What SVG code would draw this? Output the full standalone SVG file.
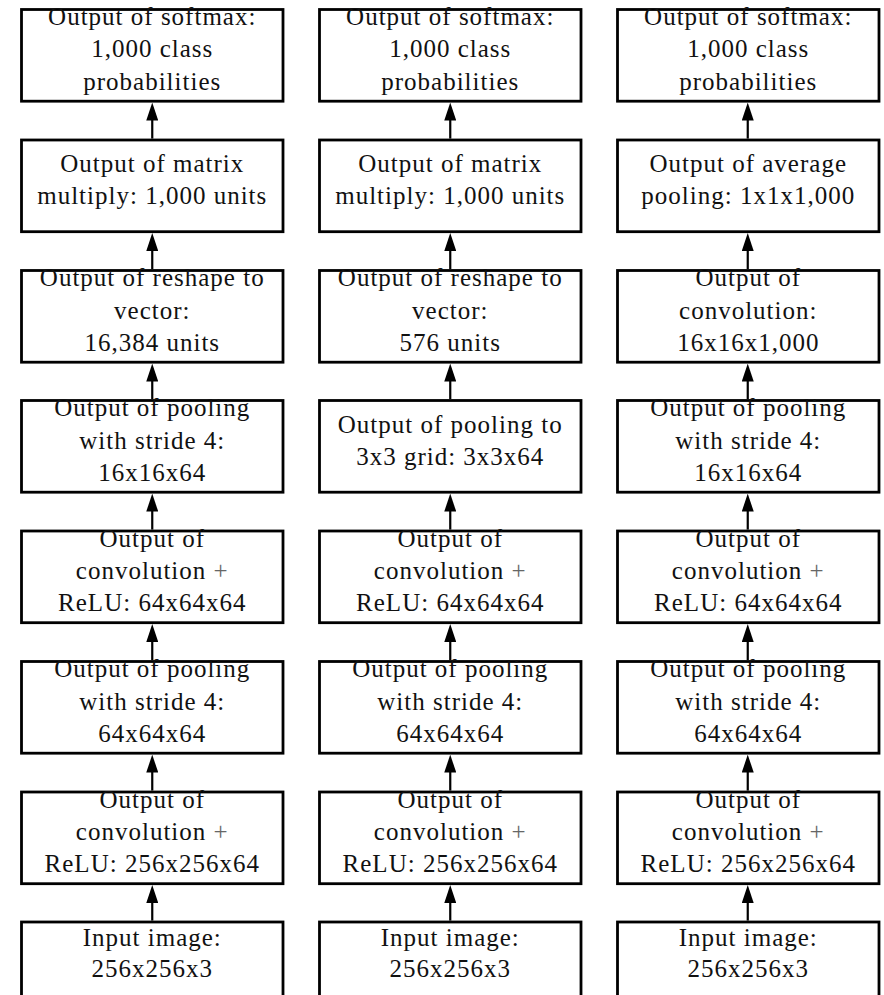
<svg xmlns="http://www.w3.org/2000/svg" width="884" height="995" viewBox="0 0 884 995">
  <style>
    .box { fill: #ffffff; stroke: #000000; stroke-width: 2.8; }
    .lbl { font-family: "Liberation Serif", "Times New Roman", serif; font-size: 25px; letter-spacing: 1px; fill: #111111; text-anchor: middle; }
    .plus { fill: #666666; }
    .edge { stroke: #000000; stroke-width: 2.2; fill: none; marker-end: url(#head); }
  </style>
  <defs>
    <marker id="head" markerUnits="userSpaceOnUse" markerWidth="18" markerHeight="12" refX="2" refY="6" orient="auto">
      <path d="M0,0 L18,6 L0,12 z" fill="#000000"/>
    </marker>
  </defs>
  <rect width="884" height="995" fill="#ffffff"/>

  <!-- connectors: each arrow points from a layer up to the layer it feeds -->
  <g id="connectors">
    <!-- column 1 -->
    <line class="edge" x1="152.25" y1="138.6" x2="152.25" y2="118.6"/>
    <line class="edge" x1="152.25" y1="269.1" x2="152.25" y2="249.1"/>
    <line class="edge" x1="152.25" y1="399.1" x2="152.25" y2="379.6"/>
    <line class="edge" x1="152.25" y1="529.6" x2="152.25" y2="509.6"/>
    <line class="edge" x1="152.25" y1="660.1" x2="152.25" y2="640.1"/>
    <line class="edge" x1="152.25" y1="790.6" x2="152.25" y2="770.6"/>
    <line class="edge" x1="152.25" y1="920.6" x2="152.25" y2="901.1"/>
    <!-- column 2 -->
    <line class="edge" x1="450.25" y1="138.6" x2="450.25" y2="118.6"/>
    <line class="edge" x1="450.25" y1="269.1" x2="450.25" y2="249.1"/>
    <line class="edge" x1="450.25" y1="399.1" x2="450.25" y2="379.6"/>
    <line class="edge" x1="450.25" y1="529.6" x2="450.25" y2="509.6"/>
    <line class="edge" x1="450.25" y1="660.1" x2="450.25" y2="640.1"/>
    <line class="edge" x1="450.25" y1="790.6" x2="450.25" y2="770.6"/>
    <line class="edge" x1="450.25" y1="920.6" x2="450.25" y2="901.1"/>
    <!-- column 3 -->
    <line class="edge" x1="747.75" y1="138.6" x2="747.75" y2="118.6"/>
    <line class="edge" x1="747.75" y1="269.1" x2="747.75" y2="249.1"/>
    <line class="edge" x1="747.75" y1="399.1" x2="747.75" y2="379.6"/>
    <line class="edge" x1="747.75" y1="529.6" x2="747.75" y2="509.6"/>
    <line class="edge" x1="747.75" y1="660.1" x2="747.75" y2="640.1"/>
    <line class="edge" x1="747.75" y1="790.6" x2="747.75" y2="770.6"/>
    <line class="edge" x1="747.75" y1="920.6" x2="747.75" y2="901.1"/>
  </g>

  <!-- ===== column 1: fully connected head, large pooling ===== -->
  <g id="c1-softmax">
    <rect class="box" x="21.5" y="9.5" width="261.5" height="91.7"/>
    <text class="lbl" x="152.25" y="25">Output of softmax:</text>
    <text class="lbl" x="152.25" y="57.3">1,000 class</text>
    <text class="lbl" x="152.25" y="89.5">probabilities</text>
  </g>
  <g id="c1-matmul">
    <rect class="box" x="21.5" y="140" width="261.5" height="91.7"/>
    <text class="lbl" x="152.25" y="172">Output of matrix</text>
    <text class="lbl" x="152.25" y="204">multiply: 1,000 units</text>
  </g>
  <g id="c1-reshape">
    <rect class="box" x="21.5" y="270.5" width="261.5" height="91.7"/>
    <text class="lbl" x="152.25" y="286.2">Output of reshape to</text>
    <text class="lbl" x="152.25" y="318.5">vector:</text>
    <text class="lbl" x="152.25" y="350.8">16,384 units</text>
  </g>
  <g id="c1-pool2">
    <rect class="box" x="21.5" y="400.5" width="261.5" height="91.7"/>
    <text class="lbl" x="152.25" y="416.2">Output of pooling</text>
    <text class="lbl" x="152.25" y="448.5">with stride 4:</text>
    <text class="lbl" x="152.25" y="480.8">16x16x64</text>
  </g>
  <g id="c1-conv2">
    <rect class="box" x="21.5" y="531" width="261.5" height="91.7"/>
    <text class="lbl" x="152.25" y="546.7">Output of</text>
    <text class="lbl" x="152.25" y="579">convolution <tspan class="plus">+</tspan></text>
    <text class="lbl" x="152.25" y="611.3">ReLU: 64x64x64</text>
  </g>
  <g id="c1-pool1">
    <rect class="box" x="21.5" y="661.5" width="261.5" height="91.7"/>
    <text class="lbl" x="152.25" y="677.2">Output of pooling</text>
    <text class="lbl" x="152.25" y="709.5">with stride 4:</text>
    <text class="lbl" x="152.25" y="741.8">64x64x64</text>
  </g>
  <g id="c1-conv1">
    <rect class="box" x="21.5" y="792" width="261.5" height="91.7"/>
    <text class="lbl" x="152.25" y="807.7">Output of</text>
    <text class="lbl" x="152.25" y="840">convolution <tspan class="plus">+</tspan></text>
    <text class="lbl" x="152.25" y="872.3">ReLU: 256x256x64</text>
  </g>
  <g id="c1-input">
    <rect class="box" x="21.5" y="922" width="261.5" height="90"/>
    <text class="lbl" x="152.25" y="945.5">Input image:</text>
    <text class="lbl" x="152.25" y="977.3">256x256x3</text>
  </g>

  <!-- ===== column 2: fully connected head, pooling to fixed grid ===== -->
  <g id="c2-softmax">
    <rect class="box" x="319.5" y="9.5" width="261.5" height="91.7"/>
    <text class="lbl" x="450.25" y="25">Output of softmax:</text>
    <text class="lbl" x="450.25" y="57.3">1,000 class</text>
    <text class="lbl" x="450.25" y="89.5">probabilities</text>
  </g>
  <g id="c2-matmul">
    <rect class="box" x="319.5" y="140" width="261.5" height="91.7"/>
    <text class="lbl" x="450.25" y="172">Output of matrix</text>
    <text class="lbl" x="450.25" y="204">multiply: 1,000 units</text>
  </g>
  <g id="c2-reshape">
    <rect class="box" x="319.5" y="270.5" width="261.5" height="91.7"/>
    <text class="lbl" x="450.25" y="286.2">Output of reshape to</text>
    <text class="lbl" x="450.25" y="318.5">vector:</text>
    <text class="lbl" x="450.25" y="350.8">576 units</text>
  </g>
  <g id="c2-pool2">
    <rect class="box" x="319.5" y="400.5" width="261.5" height="91.7"/>
    <text class="lbl" x="450.25" y="432.7">Output of pooling to</text>
    <text class="lbl" x="450.25" y="465">3x3 grid: 3x3x64</text>
  </g>
  <g id="c2-conv2">
    <rect class="box" x="319.5" y="531" width="261.5" height="91.7"/>
    <text class="lbl" x="450.25" y="546.7">Output of</text>
    <text class="lbl" x="450.25" y="579">convolution <tspan class="plus">+</tspan></text>
    <text class="lbl" x="450.25" y="611.3">ReLU: 64x64x64</text>
  </g>
  <g id="c2-pool1">
    <rect class="box" x="319.5" y="661.5" width="261.5" height="91.7"/>
    <text class="lbl" x="450.25" y="677.2">Output of pooling</text>
    <text class="lbl" x="450.25" y="709.5">with stride 4:</text>
    <text class="lbl" x="450.25" y="741.8">64x64x64</text>
  </g>
  <g id="c2-conv1">
    <rect class="box" x="319.5" y="792" width="261.5" height="91.7"/>
    <text class="lbl" x="450.25" y="807.7">Output of</text>
    <text class="lbl" x="450.25" y="840">convolution <tspan class="plus">+</tspan></text>
    <text class="lbl" x="450.25" y="872.3">ReLU: 256x256x64</text>
  </g>
  <g id="c2-input">
    <rect class="box" x="319.5" y="922" width="261.5" height="90"/>
    <text class="lbl" x="450.25" y="945.5">Input image:</text>
    <text class="lbl" x="450.25" y="977.3">256x256x3</text>
  </g>

  <!-- ===== column 3: fully convolutional with average pooling ===== -->
  <g id="c3-softmax">
    <rect class="box" x="617.5" y="9.5" width="261.5" height="91.7"/>
    <text class="lbl" x="748.25" y="25">Output of softmax:</text>
    <text class="lbl" x="748.25" y="57.3">1,000 class</text>
    <text class="lbl" x="748.25" y="89.5">probabilities</text>
  </g>
  <g id="c3-avgpool">
    <rect class="box" x="617.5" y="140" width="261.5" height="91.7"/>
    <text class="lbl" x="748.25" y="172">Output of average</text>
    <text class="lbl" x="748.25" y="204">pooling: 1x1x1,000</text>
  </g>
  <g id="c3-conv3">
    <rect class="box" x="617.5" y="270.5" width="261.5" height="91.7"/>
    <text class="lbl" x="748.25" y="286.2">Output of</text>
    <text class="lbl" x="748.25" y="318.5">convolution:</text>
    <text class="lbl" x="748.25" y="350.8">16x16x1,000</text>
  </g>
  <g id="c3-pool2">
    <rect class="box" x="617.5" y="400.5" width="261.5" height="91.7"/>
    <text class="lbl" x="748.25" y="416.2">Output of pooling</text>
    <text class="lbl" x="748.25" y="448.5">with stride 4:</text>
    <text class="lbl" x="748.25" y="480.8">16x16x64</text>
  </g>
  <g id="c3-conv2">
    <rect class="box" x="617.5" y="531" width="261.5" height="91.7"/>
    <text class="lbl" x="748.25" y="546.7">Output of</text>
    <text class="lbl" x="748.25" y="579">convolution <tspan class="plus">+</tspan></text>
    <text class="lbl" x="748.25" y="611.3">ReLU: 64x64x64</text>
  </g>
  <g id="c3-pool1">
    <rect class="box" x="617.5" y="661.5" width="261.5" height="91.7"/>
    <text class="lbl" x="748.25" y="677.2">Output of pooling</text>
    <text class="lbl" x="748.25" y="709.5">with stride 4:</text>
    <text class="lbl" x="748.25" y="741.8">64x64x64</text>
  </g>
  <g id="c3-conv1">
    <rect class="box" x="617.5" y="792" width="261.5" height="91.7"/>
    <text class="lbl" x="748.25" y="807.7">Output of</text>
    <text class="lbl" x="748.25" y="840">convolution <tspan class="plus">+</tspan></text>
    <text class="lbl" x="748.25" y="872.3">ReLU: 256x256x64</text>
  </g>
  <g id="c3-input">
    <rect class="box" x="617.5" y="922" width="261.5" height="90"/>
    <text class="lbl" x="748.25" y="945.5">Input image:</text>
    <text class="lbl" x="748.25" y="977.3">256x256x3</text>
  </g>
</svg>
